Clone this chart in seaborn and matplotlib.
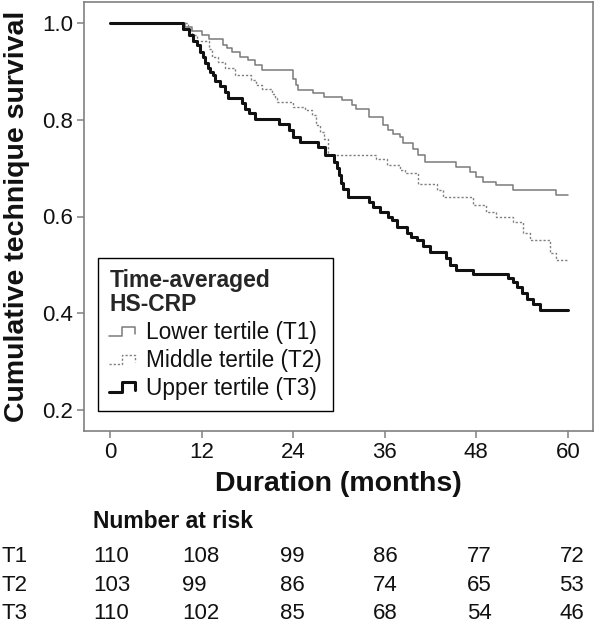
import numpy as np
import pandas as pd
import matplotlib
matplotlib.use("Agg")
import matplotlib.pyplot as plt
import matplotlib.transforms as mtransforms
from matplotlib.legend_handler import HandlerBase
from matplotlib.lines import Line2D
import seaborn as sns

# ---------------- data ----------------
t1_time = [0, 9.9, 10.7, 12.0, 13.0, 14.8, 15.3, 16.0, 17.0, 18.1, 19.0, 19.9, 24.0, 24.4, 24.7,
           26.6, 28.0, 30.4, 31.7, 32.2, 33.9, 35.8, 36.4, 37.1, 38.0, 38.4, 39.7, 40.4, 41.3,
           45.4, 47.2, 48.0, 48.9, 50.6, 52.8, 58.4, 60.0]
t1_surv = [1.0, 0.992, 0.983, 0.975, 0.966, 0.954, 0.947, 0.940, 0.930, 0.923, 0.913, 0.902, 0.885, 0.872, 0.862,
           0.855, 0.847, 0.840, 0.830, 0.823, 0.806, 0.789, 0.778, 0.770, 0.764, 0.752, 0.740, 0.727, 0.713,
           0.702, 0.692, 0.682, 0.672, 0.665, 0.654, 0.645, 0.645]

t2_time = [0, 10.2, 10.8, 11.4, 13.0, 13.4, 14.2, 15.1, 16.4, 18.5, 19.2, 19.9, 21.2, 21.6, 21.9,
           24.0, 25.6, 26.5, 27.0, 27.5, 28.0, 28.6, 34.9, 36.3, 38.0, 38.7, 40.4, 42.8, 43.7,
           47.6, 49.3, 50.6, 52.8, 54.1, 55.0, 57.6, 58.5, 60.0]
t2_surv = [1.0, 0.985, 0.975, 0.963, 0.945, 0.930, 0.920, 0.906, 0.892, 0.882, 0.871, 0.864, 0.852, 0.845, 0.837,
           0.826, 0.820, 0.810, 0.790, 0.775, 0.760, 0.727, 0.718, 0.706, 0.697, 0.689, 0.668, 0.654, 0.640,
           0.623, 0.610, 0.599, 0.589, 0.565, 0.551, 0.524, 0.510, 0.510]

t3_time = [0, 9.6, 10.3, 10.9, 11.4, 11.8, 12.2, 12.5, 12.8, 13.1, 13.5, 13.8, 14.4, 15.1, 15.5,
           17.3, 17.7, 18.2, 19.0, 22.1, 23.4, 24.0, 24.9, 27.3, 28.2, 29.3, 29.7, 30.0, 30.3,
           30.6, 31.2, 33.9, 34.5, 35.4, 36.5, 37.0, 37.6, 38.9, 39.5, 40.2, 41.0, 42.0, 44.1,
           44.6, 45.4, 47.6, 52.2, 52.8, 53.3, 54.0, 54.6, 55.5, 56.3, 60.0]
t3_surv = [1.0, 0.988, 0.975, 0.962, 0.954, 0.940, 0.930, 0.918, 0.906, 0.899, 0.892, 0.880, 0.870, 0.858, 0.845,
           0.835, 0.822, 0.813, 0.802, 0.792, 0.778, 0.764, 0.754, 0.744, 0.727, 0.713, 0.700, 0.685, 0.670,
           0.656, 0.640, 0.630, 0.620, 0.610, 0.600, 0.592, 0.579, 0.565, 0.558, 0.551, 0.540, 0.527, 0.515,
           0.500, 0.489, 0.482, 0.472, 0.464, 0.455, 0.441, 0.430, 0.420, 0.406, 0.406]

series_names = ["Lower tertile (T1)", "Middle tertile (T2)", "Upper tertile (T3)"]
row_labels = ["T1", "T2", "T3"]
risk_times = [0, 12, 24, 36, 48, 60]
risk_t1 = [110, 108, 99, 86, 77, 72]
risk_t2 = [103, 99, 86, 74, 65, 53]
risk_t3 = [110, 102, 85, 68, 54, 46]
x_ticks = [0, 12, 24, 36, 48, 60]
y_ticks = [0.2, 0.4, 0.6, 0.8, 1.0]

# ---------------- style ----------------
sns.set_theme(style="white")
plt.rcParams["font.family"] = ["Liberation Sans", "DejaVu Sans"]

fig = plt.figure(figsize=(5.95, 6.24), dpi=100)
W, H = 595, 624
ax = fig.add_axes([84 / W, 1 - 431 / H, (593 - 84) / W, (431 - 2) / H])

styles = [
    dict(color="#7a7a7a", lw=1.1, ls="-"),
    dict(color="#808080", lw=1.0, ls=(0, (1.6, 1.4))),
    dict(color="#111111", lw=2.2, ls="-"),
]
data_sets = [(t1_time, t1_surv), (t2_time, t2_surv), (t3_time, t3_surv)]
for name, (tt, ss), st in zip(series_names, data_sets, styles):
    df = pd.DataFrame({"time": tt, "surv": ss})
    sns.lineplot(data=df, x="time", y="surv", ax=ax, drawstyle="steps-post",
                 estimator=None, color=st["color"], linewidth=st["lw"],
                 linestyle=st["ls"], legend=False)

ax.set_xlim(-3.4, 63.3)
ax.set_ylim(0.157, 1.043)
ax.set_xticks(x_ticks)
ax.set_xticklabels([str(v) for v in x_ticks])
ax.set_yticks(y_ticks)
ax.set_yticklabels([f"{v:.1f}" for v in y_ticks])
for sp in ax.spines.values():
    sp.set_color("#808080")
    sp.set_linewidth(1.2)
ax.tick_params(axis="both", which="both", direction="out", length=5, width=1.1,
               color="#808080", labelsize=16, pad=3, bottom=True, left=True,
               labelcolor="#111111")

ax.set_xlabel("Duration (months)", fontsize=20.5, fontweight="bold", color="#111111")
ax.xaxis.set_label_coords(0.5, -0.093)
ax.set_ylabel("Cumulative technique survival", fontsize=20.5, fontweight="bold", color="#111111")
ax.yaxis.set_label_coords(-0.106, 0.5)


# legend with step-shaped handles
class StepHandler(HandlerBase):
    def create_artists(self, legend, orig_handle, xdescent, ydescent, width, height, fontsize, trans):
        x0 = -xdescent
        y0 = -ydescent
        xs = np.array([0.0, 0.45, 0.45, 0.92, 0.92]) * width + x0
        ys = np.array([0.2, 0.2, 0.8, 0.8, 0.35]) * height + y0
        ln = Line2D(xs, ys, color=orig_handle.get_color(), lw=orig_handle.get_linewidth(),
                    linestyle=orig_handle.get_linestyle(), transform=trans)
        if orig_handle.get_linestyle() not in ("-", "solid"):
            ln.set_dashes((1.6, 1.4))
        return [ln]


handles = [Line2D([], [], color=st["color"], lw=st["lw"],
                  linestyle="-" if st["ls"] == "-" else ":") for st in styles]
leg = ax.legend(handles, series_names, title="Time-averaged\nHS-CRP",
                handler_map={Line2D: StepHandler()},
                loc="upper left", bbox_to_anchor=(98 / W, 1 - 258 / H),
                bbox_transform=fig.transFigure, borderaxespad=0,
                fontsize=16.3, title_fontproperties={"weight": "bold", "size": 16.5},
                alignment="left", frameon=True, fancybox=False, shadow=False,
                framealpha=1, edgecolor="black", handlelength=1.25,
                handletextpad=0.35, labelspacing=0.22, borderpad=0.5)
leg.get_frame().set_linewidth(1.0)
leg.get_title().set_linespacing(1.05)
for t in leg.get_texts():
    t.set_color("#111111")

# number at risk table
blend = mtransforms.blended_transform_factory(ax.transData, fig.transFigure)
fig.text(93 / W, 1 - 528 / H, "Number at risk", fontsize=16.5, fontweight="bold",
         ha="left", va="baseline", color="#111111")
col_offsets = [-2.2, -2.5, -1.7, -1.5, -1.2, -1.1]
row_baselines = [562, 591, 619]
for lab, vals, yb in zip(row_labels, [risk_t1, risk_t2, risk_t3], row_baselines):
    fig.text(1 / W, 1 - yb / H, lab, fontsize=16, ha="left", va="baseline", color="#111111")
    for t, off, v in zip(risk_times, col_offsets, vals):
        ax.text(t + off, 1 - yb / H, str(v), transform=blend, fontsize=16,
                ha="left", va="baseline", color="#111111", clip_on=False)

fig.savefig("out.png", dpi=100)
